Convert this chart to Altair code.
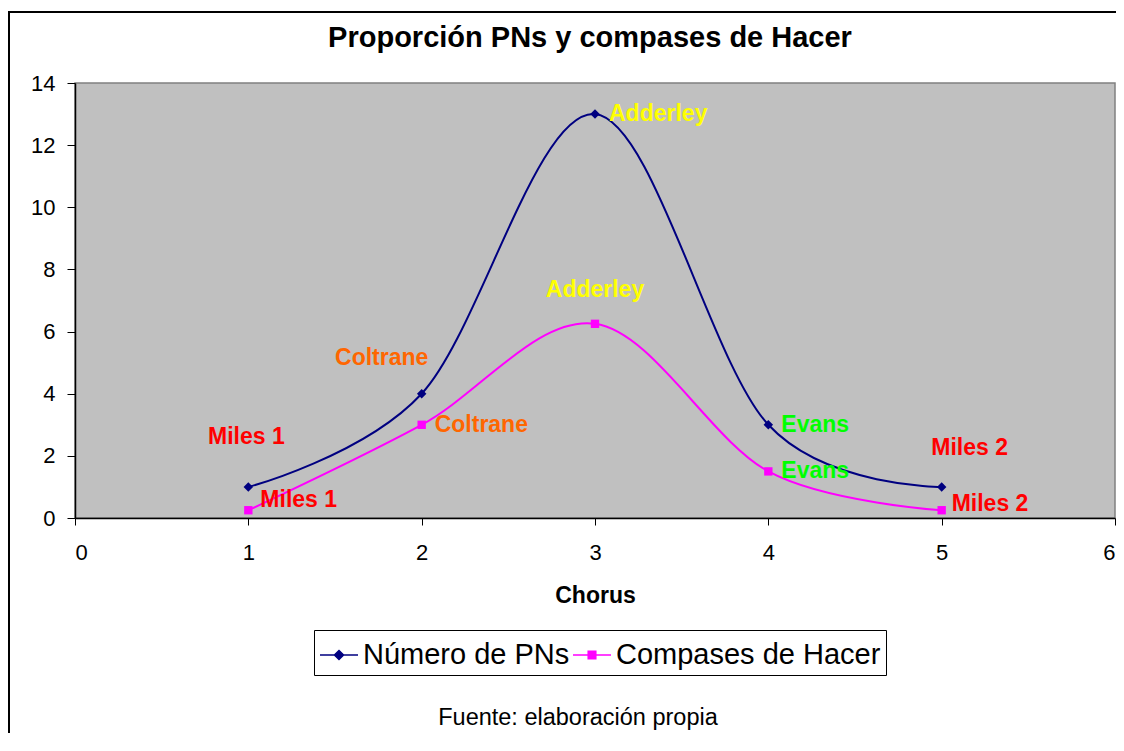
import altair as alt
import pandas as pd

# ---- data ----
chorus = [1, 2, 3, 4, 5]
num_pns = [1, 4, 13, 3, 1]
compases = [0.25, 3, 6.25, 1.5, 0.25]
solistas = ["Miles 1", "Coltrane", "Adderley", "Evans", "Miles 2"]
series = ["Número de PNs", "Compases de Hacer"]
x_ticks = [0, 1, 2, 3, 4, 5, 6]
y_ticks = [0, 2, 4, 6, 8, 10, 12, 14]
title_text = "Proporción PNs y compases de Hacer"
x_title = "Chorus"
caption = "Fuente: elaboración propia"

# ---- styles ----
FONT = "Liberation Sans"
series_colors = ["#000080", "#FF00FF"]
series_shapes = ["diamond", "square"]
series_sizes = [90, 70]
solista_colors = {"Miles 1": "#FF0000", "Coltrane": "#FF6600", "Adderley": "#FFFF00",
                  "Evans": "#00FF00", "Miles 2": "#FF0000"}
legend_paths = ["M-1,0H1M0,-0.24L0.24,0L0,0.24L-0.24,0Z",
                "M-1,0H1M-0.2,-0.2H0.2V0.2H-0.2Z"]
# label placement (dx, dy, align) relative to each point, per series
placements = [
    [(-2, -50, "center"), (-40, -36, "center"), (14, 0, "left"), (13, 0, "left"), (28, -39, "center")],
    [(12, -10, "left"), (13, 0, "left"), (0, -34, "center"), (13, 0, "left"), (10, -6, "left")],
]

W, H = 1040, 435

df = pd.DataFrame({
    "chorus": chorus * 2,
    "valor": num_pns + compases,
    "serie": [series[0]] * len(chorus) + [series[1]] * len(chorus),
    "solista": solistas * 2,
})

x_enc = alt.X("chorus:Q", scale=alt.Scale(domain=[0, 6], nice=False),
              axis=alt.Axis(values=x_ticks, title=x_title, tickSize=7, labelPadding=17,
                            titleY=66, titleBaseline="top", format="d"))
y_enc = alt.Y("valor:Q", scale=alt.Scale(domain=[0, 14], nice=False),
              axis=alt.Axis(values=y_ticks, title=None, tickSize=8, labelPadding=12, format="d"))

layers = []
for si, s in enumerate(series):
    base = alt.Chart(df).transform_filter(alt.datum.serie == s)
    layers.append(base.mark_line(interpolate="cardinal", strokeWidth=2,
                                 color=series_colors[si]).encode(x=x_enc, y=y_enc))
for si, s in enumerate(series):
    base = alt.Chart(df).transform_filter(alt.datum.serie == s)
    layers.append(base.mark_point(shape=series_shapes[si], filled=True, size=series_sizes[si],
                                  color=series_colors[si], opacity=1).encode(x=x_enc, y=y_enc))

leg = alt.Legend(title=None)
legend_layer = alt.Chart(df).transform_filter("false").mark_point(
    filled=True, opacity=1, strokeWidth=1.5
).encode(
    x=x_enc, y=y_enc,
    color=alt.Color("serie:N", scale=alt.Scale(domain=series, range=series_colors), legend=leg),
    stroke=alt.Stroke("serie:N", scale=alt.Scale(domain=series, range=series_colors), legend=leg),
    shape=alt.Shape("serie:N", scale=alt.Scale(domain=series, range=legend_paths), legend=leg),
)
layers.append(legend_layer)

for si, s in enumerate(series):
    for i, name in enumerate(solistas):
        dx, dy, align = placements[si][i]
        layers.append(
            alt.Chart(df).transform_filter(
                (alt.datum.serie == s) & (alt.datum.solista == name)
            ).mark_text(
                font=FONT, fontSize=23, fontWeight="bold", color=solista_colors[name],
                dx=dx, dy=dy, align=align, baseline="middle"
            ).encode(x=x_enc, y=y_enc, text="solista:N")
        )

frame = alt.Chart(pd.DataFrame({"a": [0]})).mark_rect(
    fill="transparent", stroke="black", strokeWidth=2
).encode(x=alt.value(-66), x2=alt.value(W + 200), y=alt.value(-71), y2=alt.value(H + 400))

ttl = alt.Chart(pd.DataFrame({"t": [title_text]})).mark_text(
    font=FONT, fontSize=29, fontWeight="bold", color="black", align="center", baseline="alphabetic"
).encode(text="t:N", x=alt.value(515), y=alt.value(-36))

cap = alt.Chart(pd.DataFrame({"t": [caption]})).mark_text(
    font=FONT, fontSize=23.5, color="black", align="center", baseline="middle"
).encode(text="t:N", x=alt.value(503), y=alt.value(635))

chart = alt.layer(frame, *layers, ttl, cap).properties(
    width=W, height=H,
    padding={"left": 67, "top": 75, "right": 1, "bottom": 215},
    autosize=alt.AutoSizeParams(type="none"),
).configure_view(
    fill="#C0C0C0", stroke="#808080", strokeWidth=1.5
).configure_axis(
    labelFont=FONT, labelFontSize=22, labelColor="black",
    titleFont=FONT, titleFontSize=23, titleFontWeight="bold", titleColor="black",
    domainColor="black", domainWidth=1.5, tickColor="black", tickWidth=1, grid=False,
).configure_legend(
    orient="none", legendX=239, legendY=547, direction="horizontal",
    strokeColor="black", fillColor="white", padding=5, cornerRadius=0,
    labelFont=FONT, labelFontSize=29, labelColor="black", labelLimit=600,
    symbolSize=1444, symbolStrokeWidth=1.5, labelOffset=4, columnPadding=0,
)

chart.save("out.html", embed_options={"renderer": "svg", "actions": False})
